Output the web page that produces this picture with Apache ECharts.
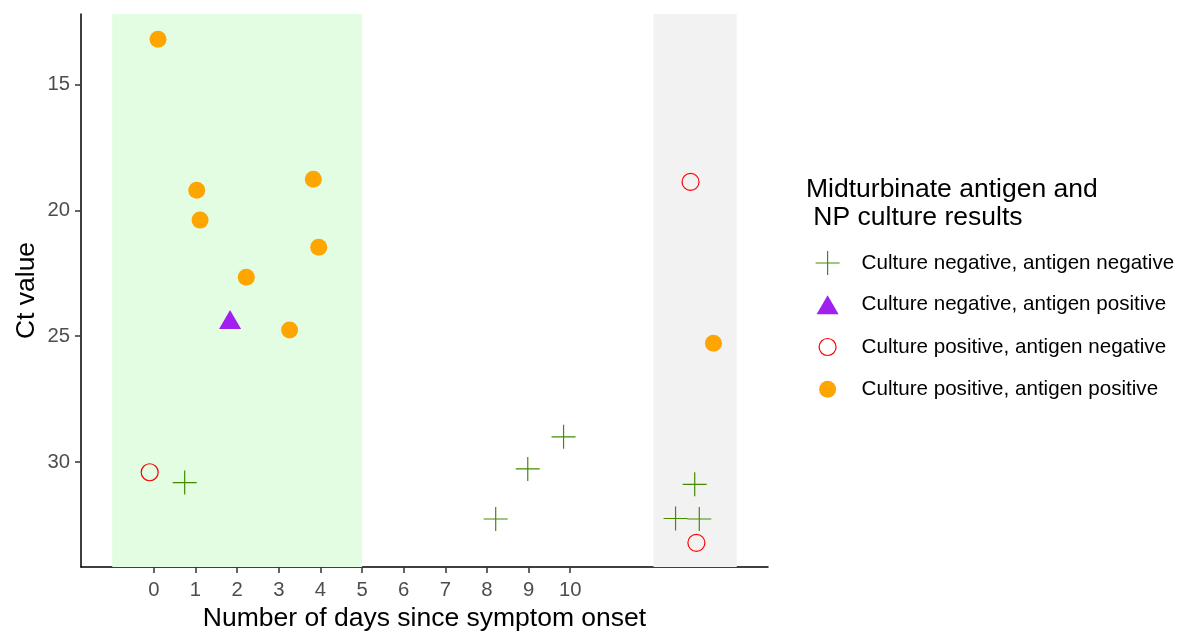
<!DOCTYPE html>
<html>
<head>
<meta charset="utf-8">
<script src="https://cdn.jsdelivr.net/npm/echarts@6/dist/echarts.min.js"></script>
<style>
  html, body { margin: 0; padding: 0; background: #fff; }
  #chart { width: 1178px; height: 633px; }
</style>
</head>
<body>
<div id="chart"></div>
<script>
// data: [days since onset, Ct value]
const negNeg = [[0.74, 30.82], [8.21, 32.27], [8.98, 30.28], [9.84, 29.0], [12.99, 30.89], [12.53, 32.25], [13.1, 32.27]];
const negPos = [[1.83, 24.33]];
const posNeg = [[-0.1, 30.41], [12.89, 18.86], [13.03, 33.22]];
const posPos = [[0.1, 13.18], [1.03, 19.19], [1.11, 20.38], [2.22, 22.65], [3.83, 18.75], [3.96, 21.46], [3.26, 24.75], [13.44, 25.28]];

const xTicks = [0, 1, 2, 3, 4, 5, 6, 7, 8, 9, 10];
const yTicks = [15, 20, 25, 30];
const greenBand = [-1, 5];
const greyBand = [12, 14];

const seriesNames = [
	'Culture negative, antigen negative',
	'Culture negative, antigen positive',
	'Culture positive, antigen negative',
	'Culture positive, antigen positive'
];

// symbols, all in a 24x24 box so legend and plot agree
const crossIcon = 'path://M0,11.4H24V12.6H0Z M11.4,0H12.6V24H11.4Z';
const triIcon = 'path://M0,0M24,24M1,21.5L23,21.5L12,2.5Z';
const circIcon = 'path://M0,0M24,24M3.5,12A8.5,8.5,0,1,1,20.5,12A8.5,8.5,0,1,1,3.5,12Z';

const styles = [
	{ color: '#458B00' },
	{ color: '#A020F0' },
	{ color: 'rgba(0,0,0,0)', borderColor: '#FF0000', borderWidth: 1.2 },
	{ color: '#FFA500' }
];
const icons = [crossIcon, triIcon, circIcon, circIcon];
const seriesData = [negNeg, negPos, posNeg, posPos];

const font = 'Liberation Sans, Arial, sans-serif';

var myChart = echarts.init(document.getElementById('chart'));

var option = {
	animation: false,
	textStyle: { fontFamily: font },
	title: {
		text: 'Midturbinate antigen and\n NP culture results',
		left: 801,
		top: 171,
		textStyle: { fontSize: 26.5, fontWeight: 'normal', color: '#000', lineHeight: 28 }
	},
	legend: {
		orient: 'vertical',
		left: 810,
		top: 246,
		itemWidth: 58,
		itemHeight: 24,
		itemGap: 17.7,
		symbolKeepAspect: true,
		textStyle: { fontSize: 20.6, color: '#000' },
		data: []
	},
	grid: { left: 81, right: 410, top: 14, bottom: 66, containLabel: false, outerBoundsMode: 'none' },
	xAxis: {
		type: 'value',
		min: -1.75,
		max: 14.75,
		name: 'Number of days since symptom onset',
		nameLocation: 'middle',
		nameGap: 38,
		nameMoveOverlap: false,
		nameTextStyle: { fontSize: 26.5, color: '#000' },
		axisLine: { onZero: false, lineStyle: { color: '#000', width: 1.5 } },
		axisTick: { show: true, length: 6, customValues: xTicks, lineStyle: { color: '#333', width: 1.5 } },
		axisLabel: { customValues: xTicks, fontSize: 20.3, color: '#4D4D4D', margin: 13 },
		splitLine: { show: false }
	},
	yAxis: {
		type: 'value',
		inverse: true,
		min: 12.18,
		max: 34.18,
		name: 'Ct value',
		nameLocation: 'middle',
		nameGap: 41,
		nameMoveOverlap: false,
		nameTextStyle: { fontSize: 26.5, color: '#000' },
		axisLine: { show: true, onZero: false, lineStyle: { color: '#000', width: 1.5 } },
		axisTick: { show: true, length: 6, customValues: yTicks, lineStyle: { color: '#333', width: 1.5 } },
		axisLabel: { customValues: yTicks, fontSize: 20.3, color: '#4D4D4D', margin: 11 },
		splitLine: { show: false }
	},
	series: [
		{
			// background bands
			type: 'scatter',
			data: [],
			z: 1,
			silent: true,
			markArea: {
				silent: true,
				data: [
					[{ xAxis: greenBand[0], itemStyle: { color: '#E2FDE2' } }, { xAxis: greenBand[1] }],
					[{ xAxis: greyBand[0], itemStyle: { color: '#F2F2F2' } }, { xAxis: greyBand[1] }]
				]
			}
		}
	]
};

for (var i = 0; i < seriesNames.length; i++) {
	option.series.push({
		name: seriesNames[i],
		type: 'scatter',
		z: 3,
		symbol: icons[i],
		symbolSize: 24,
		symbolKeepAspect: true,
		itemStyle: Object.assign({ opacity: 1 }, styles[i]),
		data: seriesData[i]
	});
	option.legend.data.push({
		name: seriesNames[i],
		icon: icons[i],
		itemStyle: Object.assign({ borderWidth: 0 }, styles[i])
	});
}

myChart.setOption(option);
</script>
</body>
</html>
